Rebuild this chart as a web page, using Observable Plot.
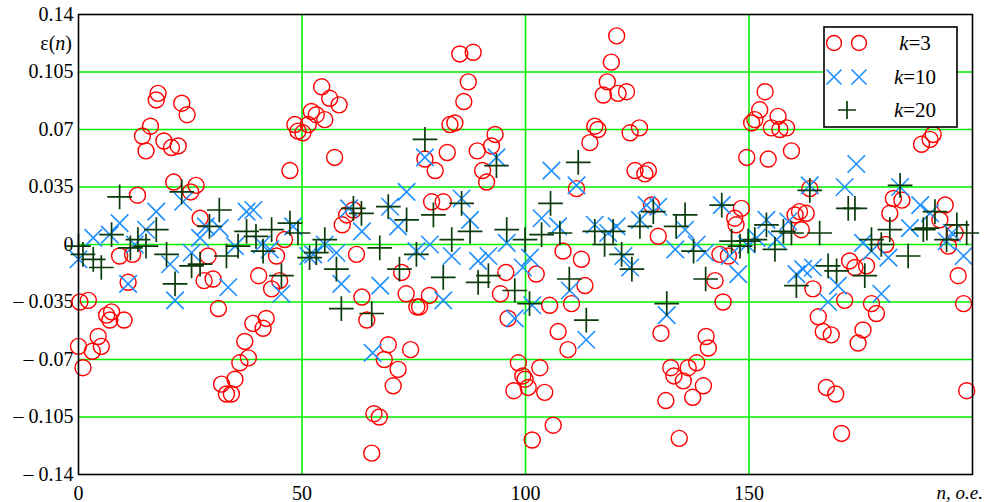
<!DOCTYPE html>
<html>
<head>
<meta charset="utf-8">
<script src="https://cdn.jsdelivr.net/npm/d3@7"></script>
<script src="https://cdn.jsdelivr.net/npm/@observablehq/plot@0.6"></script>
<style>
  html, body { margin: 0; padding: 0; background: #fff; }
  #wrap { position: relative; width: 984px; height: 502px; }
  #wrap svg { display: block; }
  #wrap svg, #wrap svg text { font-family: "Liberation Serif", "DejaVu Serif", serif !important; }
  #overlay { position: absolute; left: 0; top: 0; pointer-events: none; }
</style>
</head>
<body>
<div id="wrap"></div>
<script>
// ---- data (n, ε(n)) ----
const k3N = [0,0.3,1.0,2.2,3.1,4.4,5.1,6.3,7.0,7.4,9.2,10.2,11.1,12.1,13.2,14.3,15.1,16.1,17.4,17.8,19.1,
  20.8,21.3,22.3,23.1,24.3,25.1,26.3,27.2,28.1,29.0,30.1,31.3,32.0,33.1,34.2,35.0,36.1,37.2,38.0,39.0,40.3,
  41.3,42.0,43.2,44.3,45.0,46.1,47.3,48.4,49.1,50.2,51.4,52.1,53.2,54.4,55.1,56.2,57.3,58.3,59.0,60.0,
  61.5,62.2,63.4,64.5,65.6,66.1,67.3,68.4,69.3,70.4,71.5,72.3,73.3,74.3,75.7,76.3,77.5,78.5,79.0,79.8,
  81.6,82.5,83.1,84.2,85.3,86.2,87.2,88.3,89.2,90.4,91.3,92.4,93.2,94.4,95.6,96.1,97.4,98.4,99.4,99.9,
  100.6,101.5,102.4,103.2,104.3,105.4,106.2,107.3,108.4,109.5,110.3,111.4,112.5,113.3,114.4,115.5,116.2,117.4,118.3,119.2,120.4,120.7,
  122.6,123.4,124.5,125.5,126.7,127.5,128.2,129.7,130.3,131.4,132.5,133.2,134.4,135.3,136.4,137.4,138.3,139.8,140.4,140.9,
  142.4,143.5,144.2,145.4,146.8,147.1,148.3,149.5,150.6,151.3,152.4,153.6,154.3,155.0,156.5,156.9,158.4,159.5,160.3,
  161.3,161.7,162.8,163.6,164.3,165.5,166.6,167.3,168.4,169.4,170.7,171.4,172.5,173.7,174.4,175.5,176.3,177.4,178.5,180.6,
  181.5,182.3,184.2,188.6,190.5,191.2,192.7,193.9,194.6,196.1,196.8,198.0,198.7];
const k3E = [-0.062,-0.035,-0.075,-0.034,-0.065,-0.056,-0.062,-0.043,-0.046,-0.041,-0.007,-0.046,-0.023,-0.006,0.030,0.066,0.057,0.072,0.088,0.092,0.063,
  0.059,0.038,0.060,0.086,0.079,0.032,0.036,0.016,-0.022,-0.007,-0.021,-0.039,-0.085,-0.091,-0.091,-0.082,-0.072,-0.059,-0.069,-0.048,-0.019,
  -0.051,-0.045,-0.027,-0.007,-0.022,0.003,0.045,0.073,0.069,0.068,0.073,0.081,0.079,0.096,0.076,0.089,0.053,0.085,0.012,0.018,
  0.021,-0.006,-0.032,-0.046,-0.127,-0.103,-0.105,-0.070,-0.061,-0.086,-0.076,-0.017,-0.030,-0.064,-0.038,-0.038,0.052,-0.031,0.026,0.045,
  0.026,0.056,0.073,0.074,0.116,0.087,0.099,0.117,0.057,0.045,0.038,0.060,0.067,-0.030,-0.017,-0.045,-0.089,-0.072,-0.080,-0.082,
  -0.087,-0.119,-0.018,-0.075,-0.090,-0.037,-0.110,-0.053,-0.004,-0.064,-0.036,0.034,-0.009,-0.025,0.062,0.072,0.070,0.091,0.099,0.111,0.127,0.092,
  0.093,0.068,0.045,0.071,0.043,0.045,0.024,0.005,-0.054,-0.095,-0.075,-0.080,-0.118,-0.083,-0.075,-0.093,-0.072,-0.086,-0.056,-0.063,
  -0.022,-0.006,-0.035,-0.007,0.016,0.012,0.022,0.053,0.074,0.076,0.082,0.093,0.052,0.071,0.078,0.070,0.071,0.057,0.018,
  0.020,0.009,0.019,0.034,-0.027,-0.044,-0.053,-0.087,-0.055,-0.091,-0.115,-0.034,-0.010,-0.014,-0.060,-0.052,-0.013,-0.036,-0.042,0.000,
  0.019,0.028,0.027,0.061,0.064,0.067,0.015,0.024,-0.001,0.007,-0.019,-0.036,-0.089];

const k10N = [0,3.3,7.0,9.2,11.1,12.6,15.1,17.4,20.5,21.6,23.4,25.3,27.2,28.5,31.6,33.5,35.0,37.6,39.1,
  41.0,42.8,45.4,48.0,51.4,52.5,55.1,57.7,58.8,60.5,63.4,65.8,67.5,69.7,71.5,73.4,75.6,77.5,78.6,
  81.6,83.5,85.7,87.6,89.4,91.7,93.5,95.8,97.6,99.4,101.0,101.5,103.6,105.8,107.3,109.9,111.4,113.6,115.5,118.5,
  120.4,121.9,123.4,125.6,127.1,129.7,131.6,133.5,135.7,138.3,140.2,143.9,145.7,147.6,149.5,151.7,153.9,156.2,158.8,160.6,
  162.1,163.6,164.3,167.7,169.9,171.4,174.0,175.5,177.4,179.6,181.2,183.8,186.0,188.3,190.5,194.2,195.4,198.0];
const k10E = [-0.009,0.004,0.006,0.013,-0.024,0.000,0.009,0.020,-0.012,-0.034,0.026,-0.005,0.004,0.011,0.010,-0.026,-0.001,0.020,0.021,
  0.000,-0.003,-0.030,0.011,-0.007,-0.006,0.000,-0.005,-0.024,0.022,0.008,-0.066,-0.025,0.023,0.011,0.032,-0.004,0.053,0.000,
  -0.034,-0.007,0.028,0.015,-0.010,-0.007,0.053,0.001,-0.045,-0.014,-0.008,-0.037,0.016,0.045,0.011,-0.028,0.036,-0.058,0.012,0.007,
  0.011,-0.007,-0.014,0.015,0.024,0.023,-0.043,-0.003,0.009,0.000,-0.005,0.024,-0.007,-0.018,0.000,0.004,0.015,0.003,0.014,-0.018,
  -0.015,0.036,-0.014,-0.035,-0.025,0.035,0.049,0.001,-0.004,-0.030,-0.008,0.035,0.010,0.024,0.019,0.002,0.007,-0.007];

const k20N = [0,1.0,3.3,5.1,7.4,9.2,11.6,13.3,15.1,17.4,19.7,21.6,23.1,25.3,27.2,29.3,31.5,33.1,35.7,37.6,39.7,
  41.3,43.2,45.4,47.3,49.1,51.7,53.2,55.1,57.7,58.8,61.5,63.3,65.6,67.4,69.3,71.8,73.4,75.6,77.5,79.4,
  81.6,83.5,85.7,87.6,89.4,91.7,93.5,95.8,97.6,99.9,100.9,103.6,105.6,107.7,109.8,111.8,113.6,115.5,117.7,119.6,
  121.5,123.8,125.6,128.6,131.6,133.7,135.7,137.6,140.3,143.9,146.1,148.0,149.8,151.3,153.9,155.8,157.7,159.5,160.6,
  163.6,165.8,167.7,169.6,172.2,173.7,175.9,177.4,179.6,181.5,183.8,185.6,189.0,189.8,191.6,194.2,196.5,198.7];
const k20E = [-0.001,-0.006,-0.009,-0.014,0.006,0.029,-0.002,0.003,-0.001,0.009,-0.006,-0.024,0.032,-0.013,-0.012,0.011,0.021,-0.007,-0.001,0.008,0.005,
  -0.004,0.009,-0.019,0.013,0.007,-0.008,-0.005,0.003,-0.015,-0.039,0.022,0.019,-0.042,-0.002,0.023,-0.015,0.015,-0.006,0.064,0.018,
  -0.020,0.003,0.025,0.008,-0.023,-0.019,0.048,0.009,-0.028,0.003,-0.036,0.006,0.025,0.007,-0.021,0.050,-0.046,0.008,0.000,0.008,
  -0.006,-0.015,0.011,0.020,-0.036,0.011,0.018,-0.004,-0.021,0.024,0.002,-0.001,0.002,0.003,0.012,-0.003,0.008,0.007,-0.025,
  0.033,0.007,-0.013,-0.016,0.022,0.022,-0.019,0.003,0.000,0.009,0.036,-0.007,0.009,0.010,0.020,0.003,0.012,0.007];

const xTicks = [0, 50, 100, 150];
const xGrid = [50, 100, 150];
const yTicks = [-0.14, -0.105, -0.07, -0.035, 0, 0.035, 0.07, 0.105, 0.14];
const yTickLabels = ["– 0.14", "– 0.105", "– 0.07", "– 0.035", "0", "0.035", "0.07", "0.105", "0.14"];
const yGrid = [-0.105, -0.07, -0.035, 0, 0.035, 0.07, 0.105];
const seriesNames = ["k=3", "k=10", "k=20"];

// ---- build tables ----
const toRows = (N, E) => N.map((n, i) => ({n, e: E[i]}));
const d3rows = toRows(k3N, k3E);
const d10rows = toRows(k10N, k10E);
const d20rows = toRows(k20N, k20E);

const RED = "#ff0000", BLUE = "#1e8fff", GREEN = "#0a3a0a", GRID = "#00ee00";
const FONT = "'Liberation Serif', 'DejaVu Serif', serif";

const chart = Plot.plot({
  width: 984,
  height: 502,
  marginLeft: 78,
  marginRight: 12,
  marginTop: 14,
  marginBottom: 28,
  style: {fontFamily: FONT, fontSize: "20px", color: "#000", background: "#fff", overflow: "visible"},
  x: {domain: [0, 200], label: null},
  y: {domain: [-0.14, 0.14], label: null},
  marks: [
    Plot.ruleX(xGrid, {stroke: GRID, strokeWidth: 1.6}),
    Plot.ruleY(yGrid, {stroke: GRID, strokeWidth: 1.6}),
    Plot.axisY({ticks: yTicks, tickSize: 0, tickPadding: 5, tickFormat: d => yTickLabels[yTicks.indexOf(d)], fontSize: 20}),
    Plot.axisX({ticks: xTicks, tickSize: 0, tickPadding: 11, tickFormat: d => String(d), fontSize: 20}),
    Plot.dot(d3rows, {x: "n", y: "e", r: 8, stroke: RED, strokeWidth: 1.4, fill: "none"}),
    Plot.dot(d10rows, {x: "n", y: "e", symbol: "times", r: 8, stroke: BLUE, strokeWidth: 1.6}),
    Plot.dot(d20rows, {x: "n", y: "e", symbol: "plus", r: 8, stroke: GREEN, strokeWidth: 1.7}),
    Plot.frame({stroke: "#000", strokeWidth: 1.6})
  ]
});
document.getElementById("wrap").appendChild(chart);

// ---- overlay: axis titles and legend ----
const ov = d3.select("#wrap").append("svg")
  .attr("id", "overlay").attr("width", 984).attr("height", 502)
  .style("font-family", FONT);

// y title ε(n)
const yt = ov.append("text").attr("x", 72).attr("y", 50).attr("text-anchor", "end").attr("font-size", 20);
yt.append("tspan").text("ε(");
yt.append("tspan").attr("font-style", "italic").text("n");
yt.append("tspan").text(")");

// x title n, o.e.
ov.append("text").attr("x", 983).attr("y", 499).attr("text-anchor", "end")
  .attr("font-size", 19).attr("font-style", "italic").text("n, o.e.");

// legend
const lg = ov.append("g");
lg.append("rect").attr("x", 824).attr("y", 27).attr("width", 133).attr("height", 100)
  .attr("fill", "#fff").attr("stroke", "#000").attr("stroke-width", 1.6);
const rowsY = [43, 77, 110];
[834, 859].forEach(cx => lg.append("circle").attr("cx", cx).attr("cy", rowsY[0]).attr("r", 7.5)
  .attr("fill", "none").attr("stroke", RED).attr("stroke-width", 1.4));
[834, 859].forEach(cx => lg.append("path")
  .attr("d", `M${cx-7.5},${rowsY[1]-7.5}L${cx+7.5},${rowsY[1]+7.5}M${cx-7.5},${rowsY[1]+7.5}L${cx+7.5},${rowsY[1]-7.5}`)
  .attr("stroke", BLUE).attr("stroke-width", 1.6).attr("fill", "none"));
lg.append("path").attr("d", `M${838},${rowsY[2]}L${856},${rowsY[2]}M${847},${rowsY[2]-9}L${847},${rowsY[2]+9}`)
  .attr("stroke", GREEN).attr("stroke-width", 1.7).attr("fill", "none");
seriesNames.forEach((s, i) => {
  const t = lg.append("text").attr("x", 915).attr("y", rowsY[i] + 7).attr("text-anchor", "middle").attr("font-size", 21);
  t.append("tspan").attr("font-style", "italic").text(s.slice(0, 1));
  t.append("tspan").text(s.slice(1));
});
</script>
</body>
</html>
